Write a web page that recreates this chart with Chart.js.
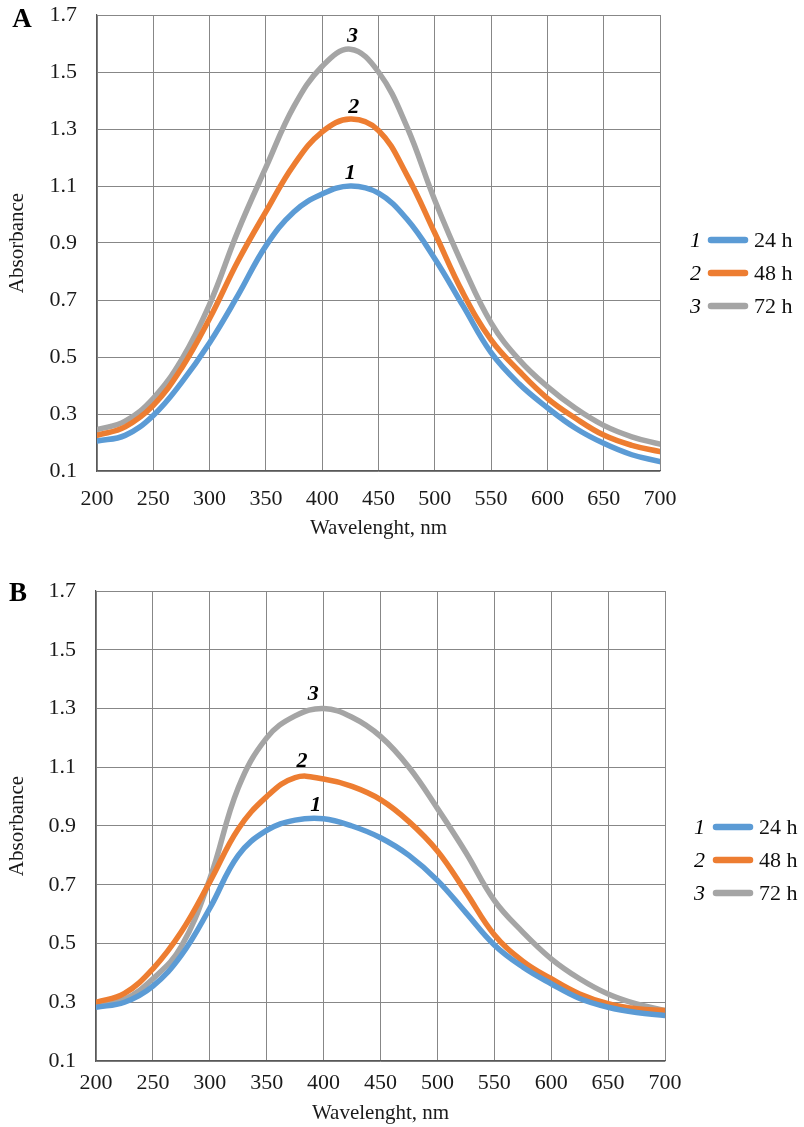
<!DOCTYPE html>
<html><head><meta charset="utf-8">
<script src="https://cdn.jsdelivr.net/npm/chart.js@4"></script>
<style>
html,body{margin:0;padding:0;background:#fff;}
body{width:804px;height:1127px;position:relative;overflow:hidden;}
.panel{position:absolute;left:0;width:804px;}
#wrapA{top:0;height:560px;}
#wrapB{top:568px;height:559px;}
canvas{display:block;}
</style></head>
<body>
<div id="wrapA" class="panel"><canvas id="chartA" width="804" height="560"></canvas></div>
<div id="wrapB" class="panel"><canvas id="chartB" width="804" height="559"></canvas></div>
<script>
// ---- data ----
const wavelengths = [200,225,250,275,300,325,350,375,400,425,450,475,500,525,550,575,600,625,650,675,700];
const seriesNames = ['24 h','48 h','72 h'];
const seriesNumbers = ['1','2','3'];
const seriesColors = ['#5B9BD5','#ED7D31','#A5A5A5'];

const A_24h = [0.205,0.225,0.295,0.41,0.55,0.715,0.89,1.01,1.072,1.10,1.075,0.985,0.845,0.68,0.515,0.405,0.322,0.25,0.197,0.157,0.133];
const A_48h = [0.225,0.255,0.33,0.46,0.635,0.835,1.01,1.175,1.29,1.335,1.295,1.14,0.935,0.725,0.56,0.45,0.355,0.285,0.226,0.19,0.168];
const A_72h = [0.245,0.275,0.355,0.49,0.685,0.94,1.165,1.38,1.52,1.58,1.50,1.31,1.05,0.82,0.62,0.49,0.396,0.32,0.26,0.22,0.194];

const B_24h = [0.283,0.30,0.355,0.46,0.62,0.80,0.885,0.92,0.925,0.90,0.86,0.80,0.715,0.605,0.495,0.42,0.363,0.313,0.283,0.265,0.255];
const B_48h = [0.30,0.33,0.414,0.54,0.71,0.89,1.0,1.065,1.06,1.035,0.99,0.915,0.815,0.675,0.53,0.44,0.38,0.328,0.295,0.278,0.272];
const B_72h = [0.29,0.31,0.38,0.49,0.72,1.03,1.20,1.275,1.30,1.27,1.205,1.10,0.96,0.81,0.647,0.539,0.448,0.38,0.328,0.294,0.272];

// curve number labels (data coordinates: wavelength, absorbance)
const A_labelWl  = [425,428,427];
const A_labelAbs = [1.146,1.377,1.626];
const B_labelWl  = [393,381,391];
const B_labelAbs = [0.971,1.121,1.349];

const xTickValues = [200,250,300,350,400,450,500,550,600,650,700];
const yTickValues = [0.1,0.3,0.5,0.7,0.9,1.1,1.3,1.5,1.7];

// ---- drawing ----
const SERIF = '"Liberation Serif", "Times New Roman", serif';

const overlay = {
  id: 'overlay',
  afterDatasetsDraw(chart, args, o) {
    const {ctx, scales: {x, y}} = chart;
    ctx.save();
    ctx.font = 'italic bold 22px ' + SERIF;
    ctx.fillStyle = '#000';
    ctx.textAlign = 'center';
    ctx.textBaseline = 'middle';
    o.labelWl.forEach((wl, i) => {
      ctx.fillText(seriesNumbers[i], x.getPixelForValue(wl), y.getPixelForValue(o.labelAbs[i]));
    });
    seriesNames.forEach((name, i) => {
      const cy = o.legTop + i * o.legGap;
      ctx.font = 'italic 22px ' + SERIF;
      ctx.fillStyle = '#000';
      ctx.textAlign = 'right';
      ctx.fillText(seriesNumbers[i], o.numRight, cy + 1);
      ctx.beginPath();
      ctx.strokeStyle = seriesColors[i];
      ctx.lineWidth = 6.5;
      ctx.lineCap = 'round';
      ctx.moveTo(o.lineX0, cy);
      ctx.lineTo(o.lineX1, cy);
      ctx.stroke();
      ctx.font = '22px ' + SERIF;
      ctx.fillStyle = '#111';
      ctx.textAlign = 'left';
      ctx.fillText(name, o.textX, cy + 1);
    });
    ctx.font = 'bold 27px ' + SERIF;
    ctx.fillStyle = '#000';
    ctx.textAlign = 'center';
    ctx.fillText(o.letter, o.letterX, o.letterY);
    ctx.restore();
  }
};

function makeChart(id, data, lab, geo) {
  const datasets = data.map((vals, i) => ({
    label: seriesNames[i],
    data: wavelengths.map((w, j) => ({x: w, y: vals[j]})),
    borderColor: seriesColors[i],
    backgroundColor: seriesColors[i],
    borderWidth: 5.5,
    pointRadius: 0,
    fill: false,
    tension: 0.4,
    borderCapStyle: 'round'
  }));
  return new Chart(document.getElementById(id), {
    type: 'line',
    data: {datasets},
    plugins: [overlay],
    options: {
      responsive: false,
      animation: false,
      events: [],
      layout: {padding: {top: geo.top, left: 0, right: geo.right, bottom: geo.bottom}},
      plugins: {
        legend: {display: false},
        tooltip: {enabled: false},
        overlay: Object.assign({labelWl: lab[0], labelAbs: lab[1]}, geo.overlay)
      },
      scales: {
        x: {
          type: 'linear', min: 200, max: 700,
          afterBuildTicks: s => { s.ticks = xTickValues.map(v => ({value: v})); },
          afterFit: s => { s.height = geo.xH; },
          ticks: {color: '#1a1a1a', font: {family: SERIF, size: 22}, padding: geo.xPad, maxRotation: 0, autoSkip: false},
          grid: {color: '#878787', lineWidth: 1, drawTicks: false},
          border: {color: '#595959', width: 1.2},
          title: {display: true, text: 'Wavelenght, nm', color: '#1a1a1a', font: {family: SERIF, size: 21}, padding: {top: 0, bottom: 0}}
        },
        y: {
          type: 'linear', min: 0.1, max: 1.7,
          afterBuildTicks: s => { s.ticks = yTickValues.map(v => ({value: v})); },
          afterFit: s => { s.width = geo.yW; },
          ticks: {color: '#1a1a1a', font: {family: SERIF, size: 22}, padding: 0, callback: v => v.toFixed(1)},
          grid: {color: '#878787', lineWidth: 1, drawTicks: true, tickLength: 20, tickColor: 'rgba(0,0,0,0)'},
          border: {color: '#595959', width: 1.2},
          title: {display: true, text: 'Absorbance', color: '#1a1a1a', font: {family: SERIF, size: 21}, padding: {top: 5, bottom: 0}}
        }
      }
    }
  });
}

makeChart('chartA', [A_24h, A_48h, A_72h], [A_labelWl, A_labelAbs], {
  top: 15, right: 144, bottom: 560 - 471 - 70, xH: 70, yW: 97, xPad: 15,
  overlay: {legTop: 240, legGap: 33, numRight: 701, lineX0: 711, lineX1: 745, textX: 754, letter: 'A', letterX: 22, letterY: 20}
});
makeChart('chartB', [B_24h, B_48h, B_72h], [B_labelWl, B_labelAbs], {
  top: 23, right: 139, bottom: 559 - 493 - 65, xH: 65, yW: 96, xPad: 9,
  overlay: {legTop: 259, legGap: 33, numRight: 705, lineX0: 716, lineX1: 750, textX: 759, letter: 'B', letterX: 18, letterY: 26}
});
</script>
</body></html>
